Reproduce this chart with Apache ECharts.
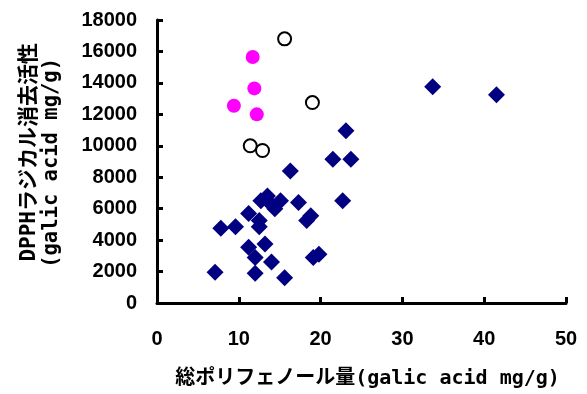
<!DOCTYPE html>
<html>
<head>
<meta charset="utf-8">
<script src="https://cdn.jsdelivr.net/npm/echarts@6/dist/echarts.min.js"></script>
<style>
  html, body { margin: 0; padding: 0; background: #fff; }
  #chart { width: 587px; height: 394px; }
</style>
</head>
<body>
<div id="chart"></div>
<script>
// 総ポリフェノール量 (x) と DPPH ラジカル消去活性 (y)
var diamondX = [33.7, 41.5, 23.1, 21.5, 23.7, 16.3, 22.7, 17.3, 13.5, 12.7, 14.1, 15.1, 14.4,
  11.2, 18.8, 18.3, 12.5, 12.5, 7.8, 9.6, 13.2, 11.2, 12.0, 14.0, 19.1, 19.8, 7.1, 12.0, 15.6];
var diamondY = [13750, 13250, 10950, 9150, 9150, 8400, 6500, 6400, 6800, 6500, 6200, 6500, 6000,
  5700, 5550, 5250, 5250, 4850, 4750, 4850, 3750, 3550, 2900, 2600, 2900, 3100, 1950, 1900, 1600];

var pinkX = [11.7, 11.9, 9.4, 12.2];
var pinkY = [15650, 13650, 12550, 12000];

var openX = [15.6, 19.0, 11.4, 12.9];
var openY = [16800, 12750, 10000, 9700];

var xTicks = { min: 0, max: 50, interval: 10 };
var yTicks = { min: 0, max: 18000, interval: 2000 };

var xTitle = '総ポリフェノール量(galic acid mg/g)';
var yTitle1 = 'DPPHラジカル消去活性';
var yTitle2 = '(galic acid mg/g)';

function pairs(xs, ys) {
  return xs.map(function (x, i) { return [x, ys[i]]; });
}

var fontNum = '"Liberation Sans", Arial, sans-serif';
var fontTitle = '"DejaVu Sans Mono", "Noto Sans CJK JP", monospace';

var chart = echarts.init(document.getElementById('chart'));
var option = {
  animation: false,
  backgroundColor: '#fff',
  grid: { left: 157, right: 21, top: 20, bottom: 89 },
  xAxis: {
    type: 'value',
    min: xTicks.min, max: xTicks.max, interval: xTicks.interval,
    name: xTitle,
    nameLocation: 'middle',
    nameGap: 66,
    nameTextStyle: { fontFamily: fontTitle, fontWeight: 'bold', fontSize: 20, color: '#000', padding: [0, 0, 0, 12] },
    axisLine: { lineStyle: { color: '#000', width: 3 } },
    axisTick: { inside: true, length: 6, lineStyle: { color: '#000', width: 3 } },
    axisLabel: {
      margin: 26, fontFamily: fontNum, fontWeight: 'bold', fontSize: 20, color: '#000',
      formatter: function (v) { return String(v); }
    },
    splitLine: { show: false }
  },
  yAxis: {
    type: 'value',
    min: yTicks.min, max: yTicks.max, interval: yTicks.interval,
    axisLine: { show: true, lineStyle: { color: '#000', width: 3 } },
    axisTick: { show: true, inside: true, length: 6, lineStyle: { color: '#000', width: 3 } },
    axisLabel: {
      margin: 20, fontFamily: fontNum, fontWeight: 'bold', fontSize: 20, color: '#000',
      formatter: function (v) { return String(v); }
    },
    splitLine: { show: false }
  },
  graphic: [
    {
      type: 'text', left: 19, top: 43, rotation: Math.PI / 2,
      style: { text: yTitle1, font: 'bold 21px ' + fontTitle, fill: '#000' }
    },
    {
      type: 'text', left: 41, top: 58, rotation: Math.PI / 2,
      style: { text: yTitle2, font: 'bold 20.5px ' + fontTitle, fill: '#000' }
    }
  ],
  series: [
    {
      type: 'scatter', symbol: 'diamond', symbolSize: 17,
      itemStyle: { color: '#000080', opacity: 1 },
      data: pairs(diamondX, diamondY)
    },
    {
      type: 'scatter', symbol: 'circle', symbolSize: 14,
      itemStyle: { color: '#ff00ff', opacity: 1 },
      data: pairs(pinkX, pinkY)
    },
    {
      type: 'scatter', symbol: 'circle', symbolSize: 13,
      itemStyle: { color: '#fff', borderColor: '#000', borderWidth: 2, opacity: 1 },
      data: pairs(openX, openY)
    }
  ]
};
chart.setOption(option);
</script>
</body>
</html>
